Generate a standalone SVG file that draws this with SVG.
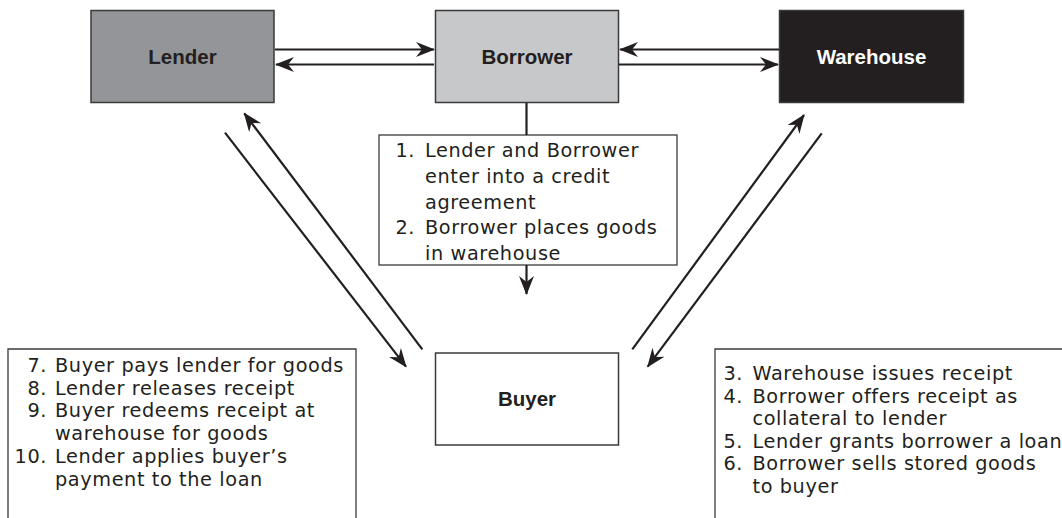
<svg xmlns="http://www.w3.org/2000/svg" width="1062" height="518" viewBox="0 0 1062 518">
<style>
.node{stroke:#3a3a3a;stroke-width:1.5}
.lbl{font-family:"Liberation Sans",Arial,sans-serif;font-weight:bold;font-size:20.5px;text-anchor:middle;fill:#231f20}
.txt{font-family:"DejaVu Sans",sans-serif;font-size:19.3px;letter-spacing:0.6px;fill:#231f20}
.num{text-anchor:end}
.box{fill:none;stroke:#3a3a3a;stroke-width:1.3}
.con{stroke:#231f20;stroke-width:2.2;fill:none}
</style>
<defs>
<marker id="ah" markerUnits="userSpaceOnUse" markerWidth="22" markerHeight="16" refX="18" refY="7.5" orient="auto">
<path d="M0,0 L19,7.5 L0,15 L6,7.5 Z" fill="#231f20"/>
</marker>
</defs>
<rect width="1062" height="518" fill="#fff"/>
<g id="lender">
<rect class="node" x="91" y="10.5" width="183" height="92" fill="#939598"/>
<text class="lbl" x="182.5" y="63.5">Lender</text>
</g>
<g id="borrower">
<rect class="node" x="435.5" y="10.5" width="183" height="92" fill="#c7c8ca"/>
<text class="lbl" x="527" y="63.5">Borrower</text>
</g>
<g id="warehouse">
<rect class="node" x="779.5" y="10.5" width="184" height="92" fill="#231f20"/>
<text class="lbl" x="871.5" y="63.5" style="fill:#fff">Warehouse</text>
</g>
<g id="buyer">
<rect class="node" x="435.5" y="353" width="183" height="92" fill="#fff"/>
<text class="lbl" x="527" y="406">Buyer</text>
</g>
<g id="steps12">
<rect class="box" x="379" y="135" width="298" height="130"/>
<text class="txt num" x="415" y="157">1.</text>
<text class="txt" x="425" y="157">Lender and Borrower</text>
<text class="txt" x="425" y="183">enter into a credit</text>
<text class="txt" x="425" y="208.5">agreement</text>
<text class="txt num" x="415" y="234">2.</text>
<text class="txt" x="425" y="234">Borrower places goods</text>
<text class="txt" x="425" y="259.5">in warehouse</text>
</g>
<g id="steps710">
<path class="box" d="M8,518 V349 H356 V518"/>
<text class="txt num" x="47" y="372">7.</text>
<text class="txt" x="55" y="372">Buyer pays lender for goods</text>
<text class="txt num" x="47" y="394.7">8.</text>
<text class="txt" x="55" y="394.7">Lender releases receipt</text>
<text class="txt num" x="47" y="417.4">9.</text>
<text class="txt" x="55" y="417.4">Buyer redeems receipt at</text>
<text class="txt" x="55" y="440">warehouse for goods</text>
<text class="txt num" x="47" y="462.8">10.</text>
<text class="txt" x="55" y="462.8">Lender applies buyer’s</text>
<text class="txt" x="55" y="485.5">payment to the loan</text>
</g>
<g id="steps36">
<path class="box" d="M1062,349 H715 V518"/>
<text class="txt num" x="743" y="380">3.</text>
<text class="txt" x="752.5" y="380">Warehouse issues receipt</text>
<text class="txt num" x="743" y="402.6">4.</text>
<text class="txt" x="752.5" y="402.6">Borrower offers receipt as</text>
<text class="txt" x="752.5" y="425.2">collateral to lender</text>
<text class="txt num" x="743" y="447.8">5.</text>
<text class="txt" x="752.5" y="447.8">Lender grants borrower a loan</text>
<text class="txt num" x="743" y="470.4">6.</text>
<text class="txt" x="752.5" y="470.4">Borrower sells stored goods</text>
<text class="txt" x="752.5" y="493">to buyer</text>
</g>
<g id="connectors">
<line class="con" x1="275" y1="49.5" x2="434" y2="49.5" marker-end="url(#ah)"/>
<line class="con" x1="434" y1="64.5" x2="276" y2="64.5" marker-end="url(#ah)"/>
<line class="con" x1="779" y1="49.5" x2="620" y2="49.5" marker-end="url(#ah)"/>
<line class="con" x1="619" y1="64.5" x2="778" y2="64.5" marker-end="url(#ah)"/>
<line class="con" x1="526.5" y1="103" x2="526.5" y2="135"/>
<line class="con" x1="526.5" y1="265" x2="526.5" y2="294" marker-end="url(#ah)"/>
<line class="con" x1="422.3" y1="349.3" x2="244.3" y2="113.3" marker-end="url(#ah)"/>
<line class="con" x1="225" y1="132.7" x2="406" y2="366.7" marker-end="url(#ah)"/>
<line class="con" x1="632.3" y1="349.3" x2="804" y2="115" marker-end="url(#ah)"/>
<line class="con" x1="821.7" y1="133.3" x2="647.7" y2="366.7" marker-end="url(#ah)"/>
</g>
</svg>
